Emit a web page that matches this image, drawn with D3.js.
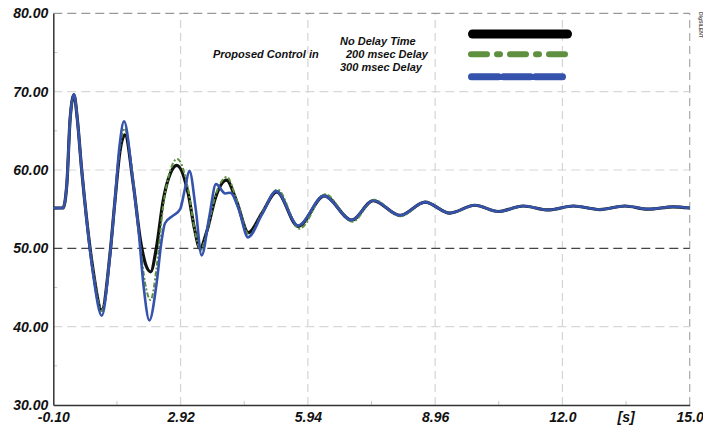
<!DOCTYPE html>
<html>
<head>
<meta charset="utf-8">
<title></title>
<style>
body { margin: 0; background: #fff; }
text {
  font-family: "Liberation Sans", Arial, sans-serif;
  font-weight: bold;
  font-style: italic;
  fill: #111;
}
.axis text { font-size: 14px; }
.legend text { font-size: 11px; }
</style>
</head>
<body>
<script src="https://d3js.org/d3.v7.min.js"></script>
<script>

// frequency [Hz] vs time [s]
var noDelay = [
  [-0.10,55.15],[0.13,55.15],[0.22,58.1],[0.30,66.6],[0.39,69.6],[0.47,66.5],[0.57,60.2],
  [0.69,53.8],[0.85,47.0],[1.05,42.1],[1.25,49.5],[1.36,55.9],[1.48,62.3],[1.60,64.5],
  [1.80,58.1],[1.96,51.3],[2.10,47.8],[2.21,47.0],[2.35,50.2],[2.51,56.2],[2.68,59.6],
  [2.83,60.6],[3.10,57.0],[3.25,52.5],[3.38,50.0],[3.55,52.3],[3.75,56.5],[4.01,58.7],
  [4.25,56.0],[4.53,52.0],[4.85,54.5],[5.20,57.2],[5.71,52.8],[6.33,56.7],[6.98,53.6],
  [7.49,56.1],[8.13,54.2],[8.72,55.9],[9.31,54.5],[9.90,55.5],[10.46,54.7],[11.05,55.4],
  [11.64,54.9],[12.24,55.4],[12.87,54.95],[13.46,55.4],[14.02,55.0],[14.61,55.3],[15.0,55.15]
];

var delay200 = [
  [-0.10,55.15],[0.13,55.15],[0.22,58.1],[0.30,66.6],[0.39,69.6],[0.47,66.5],[0.57,60.2],
  [0.69,53.8],[0.85,47.0],[1.05,42.0],[1.25,49.6],[1.36,56.0],[1.48,62.8],[1.59,65.3],
  [1.80,58.5],[1.96,50.5],[2.08,45.5],[2.21,43.4],[2.35,47.5],[2.51,55.5],[2.68,60.0],
  [2.84,61.4],[3.10,57.5],[3.25,52.5],[3.40,49.8],[3.55,52.3],[3.75,56.8],[4.02,59.1],
  [4.25,56.2],[4.55,51.7],[4.85,54.5],[5.22,57.5],[5.74,52.5],[6.35,56.9],[7.00,53.4],
  [7.51,56.2],[8.14,54.1],[8.73,55.9],[9.32,54.5],[9.91,55.5],[10.47,54.7],[11.06,55.4],
  [11.65,54.9],[12.25,55.4],[12.88,54.95],[13.47,55.4],[14.03,55.0],[14.62,55.3],[15.0,55.15]
];

var delay300 = [
  [-0.10,55.15],[0.13,55.15],[0.22,58.1],[0.30,66.6],[0.39,69.7],[0.47,66.5],[0.57,60.2],
  [0.69,53.6],[0.85,46.5],[1.05,41.4],[1.24,48.8],[1.36,55.9],[1.47,63.0],[1.58,66.2],
  [1.78,59.0],[1.92,52.5],[2.04,45.3],[2.18,40.8],[2.35,45.5],[2.47,51.0],[2.55,53.2],
  [2.75,54.2],[2.91,55.0],[3.02,57.5],[3.13,59.9],[3.28,55.0],[3.42,49.1],[3.60,54.0],
  [3.76,58.2],[3.98,57.0],[4.10,57.1],[4.30,55.0],[4.52,51.4],[4.85,54.3],[5.19,57.3],
  [5.71,52.9],[6.32,56.7],[6.98,53.6],[7.49,56.1],[8.13,54.2],[8.72,55.9],[9.31,54.5],
  [9.90,55.5],[10.46,54.7],[11.05,55.4],[11.64,54.9],[12.24,55.4],[12.87,54.95],[13.46,55.4],
  [14.02,55.0],[14.61,55.3],[15.0,55.15]
];

var xTicks = [-0.10, 2.92, 5.94, 8.96, 11.98, 15.0];
var xTickLabels = ["-0.10", "2.92", "5.94", "8.96", "12.0", "15.0"];
var xMinor = [1.41, 4.43, 7.45, 10.47, 13.49];
var yTicks = [30, 40, 50, 60, 70, 80];
var yTickLabels = ["30.00", "40.00", "50.00", "60.00", "70.00", "80.00"];
var yMinor = [35, 45, 55, 65, 75];
var legendLabels = ["No Delay Time", "200 msec Delay", "300 msec Delay"];

var width = 703, height = 430;

var x = d3.scaleLinear().domain([-0.1, 15.0]).range([53.3, 689.7]);
var y = d3.scaleLinear().domain([30, 80]).range([405, 13.3]);

var svg = d3.select("body").append("svg")
    .attr("width", width)
    .attr("height", height);

svg.append("rect").attr("width", width).attr("height", height).attr("fill", "#fff");

// grid
var grid = svg.append("g");

grid.selectAll("line.vgrid")
    .data(xTicks.slice(1))
    .enter().append("line")
    .attr("x1", function(d) { return x(d); })
    .attr("x2", function(d) { return x(d); })
    .attr("y1", y(30))
    .attr("y2", y(80))
    .style("stroke", function(d) { return d == 15.0 ? "#a8a8a8" : "#d4d4d4"; })
    .style("stroke-width", 1.2)
    .style("stroke-dasharray", "8,5");

grid.selectAll("line.hgrid")
    .data(yTicks.slice(1))
    .enter().append("line")
    .attr("x1", x(-0.1))
    .attr("x2", x(15.0))
    .attr("y1", function(d) { return y(d); })
    .attr("y2", function(d) { return y(d); })
    .style("stroke", function(d) {
      if (d == 50) return "#444";
      if (d == 80) return "#999";
      return "#d8d8d8";
    })
    .style("stroke-width", 1.2)
    .style("stroke-dasharray", "9,5");

grid.selectAll("line.yminor")
    .data(yMinor)
    .enter().append("line")
    .attr("x1", x(-0.1))
    .attr("x2", x(-0.1) + 4)
    .attr("y1", function(d) { return y(d); })
    .attr("y2", function(d) { return y(d); })
    .style("stroke", "#c8c8c8");

grid.selectAll("line.xminor")
    .data(xMinor)
    .enter().append("line")
    .attr("x1", function(d) { return x(d); })
    .attr("x2", function(d) { return x(d); })
    .attr("y1", y(30))
    .attr("y2", y(30) - 4)
    .style("stroke", "#c8c8c8");

// axes
var xAxis = d3.axisBottom(x)
    .tickValues(xTicks)
    .tickSize(0)
    .tickPadding(7)
    .tickFormat(function(d, i) { return xTickLabels[i]; });

var yAxis = d3.axisLeft(y)
    .tickValues(yTicks)
    .tickSize(0)
    .tickPadding(5)
    .tickFormat(function(d, i) { return yTickLabels[i]; });

var gx = svg.append("g")
    .attr("class", "axis")
    .attr("transform", "translate(0," + y(30) + ")")
    .call(xAxis);
gx.select(".domain").style("stroke", "#333").style("stroke-width", 1.5);

var gy = svg.append("g")
    .attr("class", "axis")
    .attr("transform", "translate(" + x(-0.1) + ",0)")
    .call(yAxis);
gy.select(".domain").style("stroke", "#333").style("stroke-width", 1.5);

svg.selectAll(".axis text").attr("font-family", null).attr("font-size", null).style("fill", "#111");

svg.append("text")
    .attr("class", "axis")
    .attr("x", x(13.49))
    .attr("y", y(30) + 17)
    .attr("text-anchor", "middle")
    .style("font-size", "14px")
    .text("[s]");

// curves
var line = d3.line()
    .x(function(d) { return x(d[0]); })
    .y(function(d) { return y(d[1]); })
    .curve(d3.curveMonotoneX);

svg.append("path")
    .datum(noDelay)
    .attr("d", line)
    .style("fill", "none")
    .style("stroke", "#111")
    .style("stroke-width", 3.2);

svg.append("path")
    .datum(delay200)
    .attr("d", line)
    .style("fill", "none")
    .style("stroke", "#5e9040")
    .style("stroke-width", 2)
    .style("stroke-dasharray", "5,2,2,2");

svg.append("path")
    .datum(delay300)
    .attr("d", line)
    .style("fill", "none")
    .style("stroke", "#3553ad")
    .style("stroke-width", 2.6);

// legend
var legend = svg.append("g").attr("class", "legend");

legend.append("text")
    .attr("x", 213)
    .attr("y", 57.5)
    .text("Proposed Control in");

legend.append("text").attr("x", 340).attr("y", 45).text(legendLabels[0]);
legend.append("text").attr("x", 346).attr("y", 57.5).text(legendLabels[1]);
legend.append("text").attr("x", 340).attr("y", 70.5).text(legendLabels[2]);

legend.append("line")
    .attr("x1", 472.5).attr("x2", 567.5).attr("y1", 34).attr("y2", 34)
    .style("stroke", "#000").style("stroke-width", 9).style("stroke-linecap", "round");

legend.append("line")
    .attr("x1", 471).attr("x2", 565).attr("y1", 54.3).attr("y2", 54.3)
    .style("stroke", "#5e9040").style("stroke-width", 6).style("stroke-linecap", "round")
    .style("stroke-dasharray", "16,10,3,10");

legend.append("line")
    .attr("x1", 471.5).attr("x2", 567.5).attr("y1", 76.7).attr("y2", 76.7)
    .style("stroke", "#3553ad").style("stroke-width", 7).style("stroke-linecap", "round")
    .style("stroke-dasharray", "27,5");

// small logo at the top right corner
svg.append("text")
    .attr("transform", "translate(699,12) rotate(90)")
    .style("font-size", "5px")
    .style("font-style", "normal")
    .style("fill", "#555")
    .text("DIgSILENT");

</script>
</body>
</html>
